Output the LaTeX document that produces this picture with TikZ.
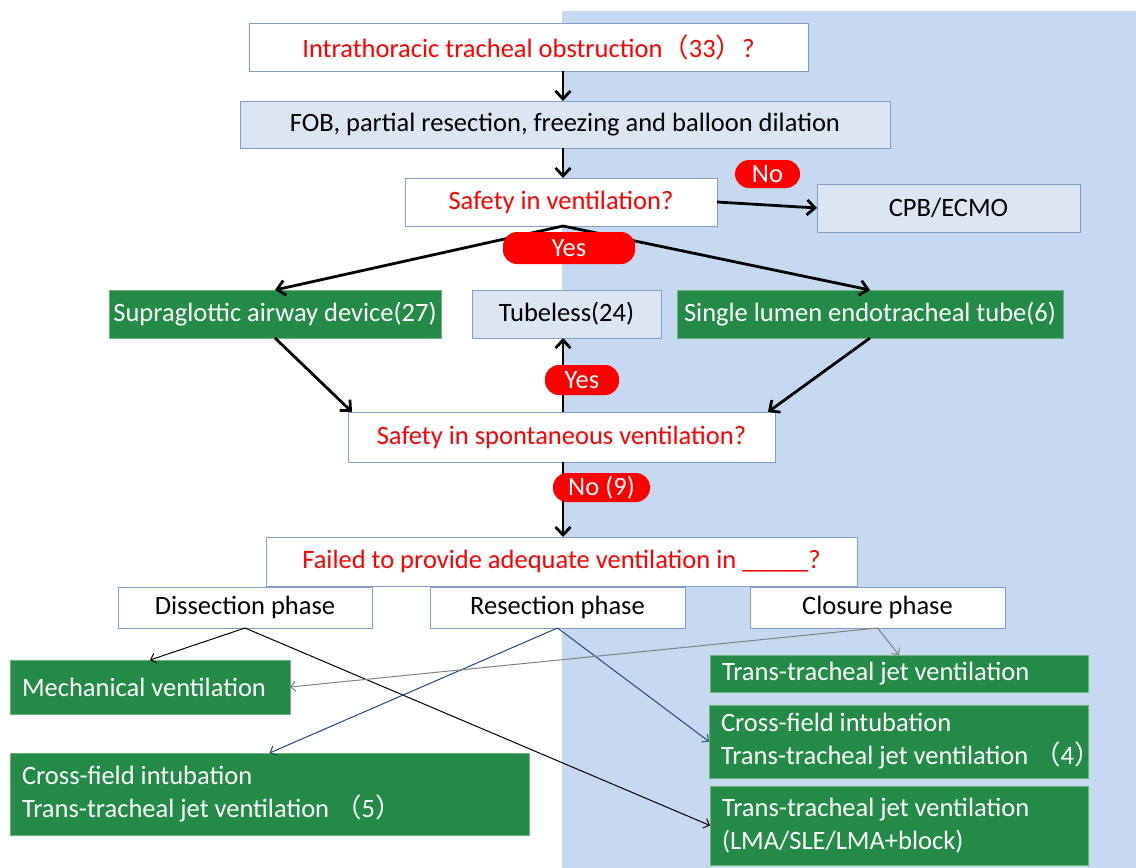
\documentclass[tikz,border=0pt]{standalone}
\usepackage{fontspec}
\setmainfont{Carlito}
\newfontfamily\cjk{Noto Sans CJK SC}
\usetikzlibrary{arrows.meta,calc}
\definecolor{bgblue}{RGB}{198,217,240}
\definecolor{lblue}{RGB}{220,230,242}
\definecolor{bord}{RGB}{130,158,196}
\definecolor{gbox}{RGB}{35,139,71}
\definecolor{gbord}{RGB}{110,180,120}
\definecolor{dblue}{RGB}{31,73,125}
\definecolor{pred}{RGB}{255,0,0}
\definecolor{lgray}{RGB}{128,128,128}
\begin{document}
\begin{tikzpicture}[x=1pt,y=-1pt,
  every node/.style={font=\fontsize{26.5}{33}\selectfont, inner sep=0pt, outer sep=0pt},
  wbox/.style={draw=bord, line width=0.8pt, fill=white, text=pred},
  phbox/.style={draw=bord, line width=0.8pt, fill=white, text=black},
  lbbox/.style={draw=bord, line width=0.8pt, fill=lblue, text=black},
  gcbox/.style={draw=gbord, line width=0.6pt, fill=gbox, text=white},
  glbox/.style={draw=gbord, line width=0.6pt, fill=gbox, text=white, align=flush left, inner xsep=12pt},
  pill/.style={fill=pred, text=white, rounded corners=14pt},
  thickarr/.style={line width=2.8pt, -{Straight Barb[length=8pt,width=15pt]}},
  thinarr/.style={line width=1pt, -{Straight Barb[length=5pt,width=10pt]}}
]
\useasboundingbox (0,0) rectangle (1136,868);
\fill[bgblue] (562,11) rectangle (1136,868);
\coordinate (ax) at (563,0);

% top part
\node[wbox, minimum width=559pt, minimum height=48pt] (b1) at (528.5,47)
  {Intrathoracic tracheal obstruction{\cjk （}33{\cjk ）}?};
\node[lbbox, minimum width=650pt, minimum height=47pt] (b2) at (565,124.5)
  {FOB, partial resection, freezing and balloon dilation};
\node[wbox, minimum width=312pt, minimum height=48pt] (b3) at (561,202)
  {Safety in ventilation?};
\node[lbbox, minimum width=263pt, minimum height=48pt] (cpb) at (948.5,208)
  {CPB/ECMO};
\node[gcbox, minimum width=332pt, minimum height=48pt] (supra) at (275,314)
  {Supraglottic airway device(27)};
\node[lbbox, minimum width=189pt, minimum height=48pt] (tube) at (566.5,314)
  {Tubeless(24)};
\node[gcbox, minimum width=386pt, minimum height=48pt] (slt) at (870,314)
  {Single lumen endotracheal tube(6)};
\node[wbox, minimum width=427pt, minimum height=50pt] (sp) at (561.5,437)
  {Safety in spontaneous ventilation?};
\node[wbox, minimum width=591pt, minimum height=49pt] (fail) at (561.5,561.5)
  {Failed to provide adequate ventilation in \_\_\_\_\_?};
\node[phbox, minimum width=254pt, minimum height=41pt] (dis) at (245,607.5)
  {Dissection phase};
\node[phbox, minimum width=255pt, minimum height=41pt] (res) at (557.5,607.5)
  {Resection phase};
\node[phbox, minimum width=255pt, minimum height=41pt] (clo) at (877.5,607.5)
  {Closure phase};

% outcome boxes
\node[glbox, text width=256pt, minimum height=54pt] (mech) at (150,687)
  {Mechanical ventilation};
\node[glbox, text width=495pt, minimum height=82pt] (cf5) at (269.5,794)
  {Cross-field intubation\\Trans-tracheal jet ventilation {\cjk （}5{\cjk ）}};
\node[glbox, text width=354pt, minimum height=37pt] (ttj) at (899,673.5)
  {Trans-tracheal jet ventilation};
\node[glbox, text width=355pt, minimum height=73pt] (cf4) at (898.5,741.5)
  {Cross-field intubation\\Trans-tracheal jet ventilation\rlap{ {\cjk （}4{\cjk ）}}};
\node[glbox, text width=354pt, minimum height=79pt] (ttj2) at (899,825.5)
  {Trans-tracheal jet ventilation\\(LMA/SLE/LMA+block)};

% thick connectors
\draw[thickarr] (b1.south -| ax) -- (b2.north -| ax);
\draw[thickarr] (b2.south -| ax) -- (b3.north -| ax);
\draw[thickarr] (b3.east) -- (cpb.west);
\draw[thickarr] (b3.south -| ax) -- (supra.north);
\draw[thickarr] (b3.south -| ax) -- (slt.north);
\draw[thickarr] (supra.south) -- ($(sp.north west)+(4,0)$);
\draw[thickarr] (slt.south) -- ($(sp.north east)+(-7,0)$);
\draw[thickarr] (sp.north -| ax) -- (tube.south -| ax);
\draw[thickarr] (sp.south -| ax) -- (fail.north -| ax);

% pills
\node[pill, minimum width=65pt, minimum height=28pt] (no1) at (767.5,174) {No};
\node[pill, minimum width=132pt, minimum height=32pt] (yes1) at (569,248) {Yes};
\node[pill, minimum width=74pt, minimum height=30pt] (yes2) at (582,380) {Yes};
\node[pill, minimum width=97pt, minimum height=29pt] (no9) at (601.5,487.5) {No (9)};

% thin connectors
\draw[thinarr, black] (dis.south) -- (mech.north);
\draw[thinarr, black] (dis.south) -- (ttj2.west);
\draw[thinarr, dblue] (res.south) -- (cf5.north);
\draw[thinarr, dblue] (res.south) -- (cf4.west);
\draw[thinarr, lgray] (clo.south) -- (ttj.north);
\draw[thinarr, lgray] (clo.south) -- (mech.east);
\end{tikzpicture}
\end{document}
